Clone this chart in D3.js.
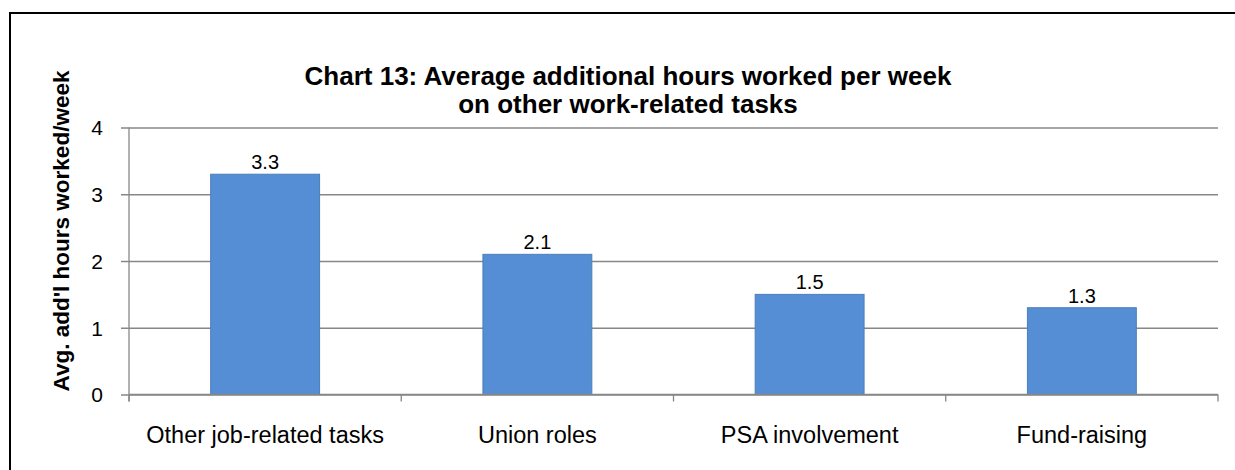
<!DOCTYPE html>
<html>
<head>
<meta charset="utf-8">
<script src="https://cdn.jsdelivr.net/npm/d3@7"></script>
<style>
	body { margin: 0; background: #fff; }
	text { font-family: "Liberation Sans", Arial, sans-serif; fill: #000; }
</style>
</head>
<body>
<svg id="chart" width="1235" height="470"></svg>
<script>
// data
var categories = ["Other job-related tasks", "Union roles", "PSA involvement", "Fund-raising"];
var hours = [3.3, 2.1, 1.5, 1.3];
var yTicks = [0, 1, 2, 3, 4];
var titleLines = ["Chart 13: Average additional hours worked per week", "on other work-related tasks"];
var yLabel = "Avg. add'l hours worked/week";

var svg = d3.select("#chart");
var margin = { left: 129, top: 127.5, right: 1218, bottom: 394.5 };

// outer frame (right/bottom edges fall outside the picture)
svg.append("rect")
	.attr("x", 10).attr("y", 13)
	.attr("width", 1240).attr("height", 470)
	.style("fill", "none")
	.style("stroke", "#000")
	.style("stroke-width", 2);

var x = d3.scaleBand()
	.domain(categories)
	.range([margin.left, margin.right])
	.paddingInner(0.6)
	.paddingOuter(0.3);

var y = d3.scaleLinear()
	.domain([0, 4])
	.range([margin.bottom, margin.top]);

// gridlines + y axis
var yAxis = d3.axisLeft(y)
	.tickValues(yTicks)
	.tickFormat(d3.format("d"))
	.tickSizeInner(-(margin.right - margin.left))
	.tickSizeOuter(0)
	.tickPadding(26);

var gy = svg.append("g")
	.attr("transform", "translate(" + margin.left + ",0)")
	.call(yAxis);
gy.select(".domain").remove();
gy.selectAll(".tick line")
	.attr("x1", -8)
	.style("stroke", "#878787")
	.style("stroke-width", 1.3);
gy.selectAll(".tick text")
	.style("font-size", "21px")
	.attr("dy", "0.35em");

// bars
svg.append("g")
	.selectAll("rect")
	.data(hours)
	.enter()
	.append("rect")
	.attr("x", (d, i) => x(categories[i]))
	.attr("y", d => y(d))
	.attr("width", x.bandwidth())
	.attr("height", d => y(0) - y(d))
	.style("fill", "#558ED5")
	.style("stroke", "#4A7EBB")
	.style("stroke-width", 1);

// data labels
svg.append("g")
	.selectAll("text")
	.data(hours)
	.enter()
	.append("text")
	.attr("x", (d, i) => x(categories[i]) + x.bandwidth() / 2)
	.attr("y", d => y(d) - 5)
	.attr("text-anchor", "middle")
	.style("font-size", "20px")
	.text(d => d3.format(".1f")(d));

// y axis line
svg.append("line")
	.attr("x1", margin.left).attr("x2", margin.left)
	.attr("y1", margin.top).attr("y2", margin.bottom + 7)
	.style("stroke", "#878787")
	.style("stroke-width", 1.3);

// x axis
var boundaries = d3.range(categories.length + 1).map(i => margin.left + i * (margin.right - margin.left) / categories.length);
var gx = svg.append("g");
gx.append("line")
	.attr("x1", margin.left).attr("x2", margin.right)
	.attr("y1", y(0)).attr("y2", y(0))
	.style("stroke", "#878787")
	.style("stroke-width", 1.3);
gx.selectAll("line.tick")
	.data(boundaries)
	.enter()
	.append("line")
	.attr("class", "tick")
	.attr("x1", d => d).attr("x2", d => d)
	.attr("y1", y(0)).attr("y2", y(0) + 7)
	.style("stroke", "#878787")
	.style("stroke-width", 1.3);
gx.selectAll("text")
	.data(categories)
	.enter()
	.append("text")
	.attr("x", d => x(d) + x.bandwidth() / 2)
	.attr("y", 443)
	.attr("text-anchor", "middle")
	.style("font-size", "23.5px")
	.text(d => d);

// title
svg.append("text")
	.attr("x", 628)
	.attr("y", 85)
	.attr("text-anchor", "middle")
	.style("font-size", "26px")
	.style("font-weight", "bold")
	.selectAll("tspan")
	.data(titleLines)
	.enter()
	.append("tspan")
	.attr("x", 628)
	.attr("dy", (d, i) => i === 0 ? 0 : 28)
	.text(d => d);

// y label
svg.append("text")
	.attr("transform", "translate(69,231) rotate(-90)")
	.attr("text-anchor", "middle")
	.style("font-size", "22.5px")
	.style("font-weight", "bold")
	.text(yLabel);
</script>
</body>
</html>
